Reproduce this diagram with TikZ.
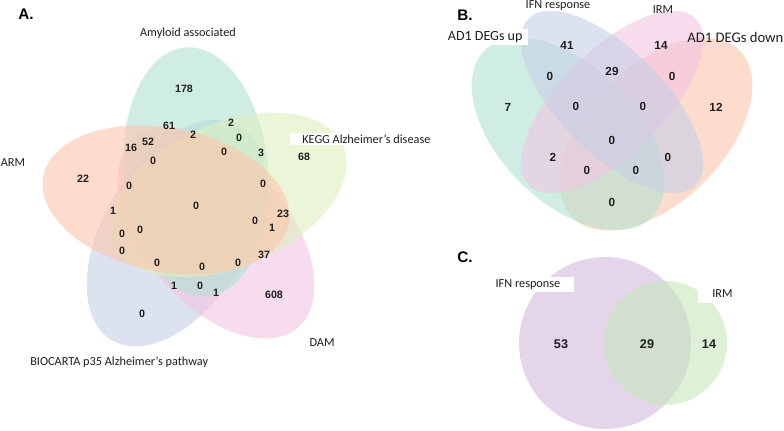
\documentclass[tikz,border=0pt]{standalone}
\usepackage{fontspec}
\setmainfont{Carlito}
\newfontfamily\numfont{Liberation Sans}
\definecolor{sgreen}{RGB}{178,225,210}
\definecolor{sorange}{RGB}{252,198,173}
\definecolor{sblue}{RGB}{198,207,230}
\definecolor{spink}{RGB}{242,197,225}
\definecolor{slime}{RGB}{222,240,192}
\definecolor{cpurple}{RGB}{213,185,222}
\definecolor{cgreen}{RGB}{200,230,188}
\definecolor{txt}{RGB}{30,30,30}
\begin{document}
\begin{tikzpicture}[x=0.75pt,y=-0.75pt,
  lab/.style={font=\fontsize{9.2}{11}\selectfont, inner sep=0pt, text=txt},
  num/.style={font=\numfont\bfseries\fontsize{8}{9}\selectfont, inner sep=0pt, text=txt},
  numB/.style={num, font=\numfont\bfseries\fontsize{8.8}{10}\selectfont},
  numC/.style={num, font=\numfont\bfseries\fontsize{9.5}{11}\selectfont},
  panel/.style={font=\numfont\bfseries\fontsize{11.5}{13}\selectfont, inner sep=0pt, text=black},
  set/.style={fill opacity=0.6}
]
\useasboundingbox[fill=white] (0,0) rectangle (784,430);

% ---------- Panel A ----------
\fill[sblue, set, rotate around={-121:(176,233)}] (176,233) ellipse [x radius=125, y radius=72];
\fill[spink, set, rotate around={-49:(216,233)}] (216,233) ellipse [x radius=125, y radius=72];
\fill[sgreen, set, rotate around={95:(196,172)}] (196,172) ellipse [x radius=125, y radius=72];
\fill[slime, set, rotate around={23:(228,195)}] (228,195) ellipse [x radius=125, y radius=72];
\fill[sorange, set, rotate around={169:(166,200)}] (166,200) ellipse [x radius=125, y radius=72];

\node (tA) [panel, anchor=west] at (18,14) {A.};
\node (amy) [lab] at (188,33) {Amyloid associated};
\node (kegg) [lab, fill=white, anchor=west, minimum height=9pt] at (290,139) {\hspace*{9pt}KEGG Alzheimer’s disease\hspace*{2pt}};
\node (arm) [lab, anchor=west] at (0.5,163) {ARM};
\node (dam) [lab] at (322,343) {DAM};
\node (bio) [lab, anchor=west] at (30,362) {BIOCARTA p35 Alzheimer’s pathway};

\node (a1) [num] at (184,89) {178};
\node (a2) [num] at (169,126) {61};
\node (a3) [num] at (193,135) {2};
\node (a4) [num] at (231,123) {2};
\node (a5) [num] at (239,138) {0};
\node (a6) [num] at (148,142) {52};
\node (a7) [num] at (131,148) {16};
\node (a8) [num] at (153,161) {0};
\node (a9) [num] at (224,152) {0};
\node (a10) [num] at (261,153) {3};
\node (a11) [num] at (304,157) {68};
\node (a12) [num] at (83,179) {22};
\node (a13) [num] at (129,186) {0};
\node (a14) [num] at (263,184) {0};
\node (a15) [num] at (113,211) {1};
\node (a16) [num] at (196,206) {0};
\node (a17) [num] at (283,214) {23};
\node (a18) [num] at (255,221) {0};
\node (a19) [num] at (272,228) {1};
\node (a20) [num] at (122,234) {0};
\node (a21) [num] at (140,230) {0};
\node (a22) [num] at (122,251) {0};
\node (a23) [num] at (264,255) {37};
\node (a24) [num] at (157,263) {0};
\node (a25) [num] at (202,267) {0};
\node (a26) [num] at (238,263) {0};
\node (a27) [num] at (174,286) {1};
\node (a28) [num] at (200,286) {0};
\node (a29) [num] at (216,293) {1};
\node (a30) [num] at (274,295) {608};
\node (a31) [num] at (142,314) {0};

% ---------- Panel B ----------
\fill[sorange, set, rotate around={45:(656,134)}] (656,134) ellipse [x radius=118, y radius=68];
\fill[sgreen, set, rotate around={-45:(568,134)}] (568,134) ellipse [x radius=118, y radius=68];
\fill[spink, set, rotate around={45:(612,102)}] (612,102) ellipse [x radius=118, y radius=52];
\fill[sblue, set, rotate around={-45:(612,102)}] (612,102) ellipse [x radius=118, y radius=52];

\node (tB) [panel, anchor=west] at (457,15) {B.};
\node (ad1u) [lab, font=\fontsize{10.5}{12}\selectfont, fill=white, anchor=west, inner xsep=2pt, inner ysep=1.5pt] at (445,37) {AD1 DEGs up\hspace*{2pt}};
\node (ifnB) [lab] at (558,6) {IFN response};
\node (irmB) [lab] at (663,10) {IRM};
\node (ad1d) [lab, font=\fontsize{11}{13}\selectfont, anchor=west] at (687,37) {AD1 DEGs down};

\node (b1) [numB] at (508,107) {7};
\node (b2) [numB] at (716,107) {12};
\node (b3) [numB] at (567,45) {41};
\node (b4) [numB] at (661,45) {14};
\node (b5) [numB] at (612,71) {29};
\node (b6) [numB] at (550,76) {0};
\node (b7) [numB] at (672,76) {0};
\node (b8) [numB] at (576,106) {0};
\node (b9) [numB] at (643,106) {0};
\node (b10) [numB] at (612,140) {0};
\node (b11) [numB] at (553,157) {2};
\node (b12) [numB] at (668,157) {0};
\node (b13) [numB] at (587,170) {0};
\node (b14) [numB] at (636,170) {0};
\node (b15) [numB] at (612,202) {0};

% ---------- Panel C ----------
\fill[cpurple, set] (605,343) circle [radius=86];
\fill[cgreen, set] (665,343) circle [radius=62];

\node (tC) [panel, anchor=west] at (457,257) {C.};
\node (ifnC) [lab, fill=white, anchor=west, inner xsep=0pt, minimum height=11.25pt] at (492,284.5) {\hspace*{2.5pt}IFN response\hspace*{10.5pt}};
\node (irmC) [lab, fill=white, anchor=west, inner xsep=0pt, minimum height=13.5pt] at (698,294) {\hspace*{10.5pt}IRM\hspace*{2.5pt}};

\node (c1) [numC] at (561,344) {53};
\node (c2) [numC] at (647,344) {29};
\node (c3) [numC] at (709,344) {14};
\end{tikzpicture}
\end{document}
